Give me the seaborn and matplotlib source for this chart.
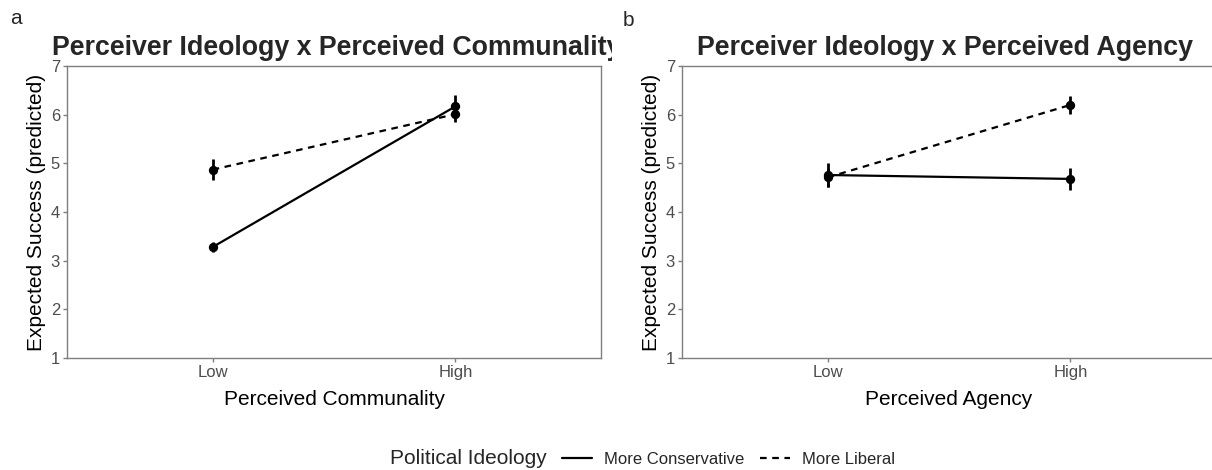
import numpy as np
import pandas as pd
import matplotlib
matplotlib.use("Agg")
import matplotlib.pyplot as plt
import seaborn as sns
from matplotlib.lines import Line2D
from matplotlib.transforms import Bbox, TransformedBbox

sns.set_theme(style="white")
plt.rcParams["font.family"] = ["Liberation Sans", "DejaVu Sans"]

# Predicted values and 95% CI half-widths
levels = ["Low", "High"]
ideologies = ["More Conservative", "More Liberal"]

communality_conservative = [3.28, 6.17]
communality_conservative_err = [0.10, 0.23]
communality_liberal = [4.87, 6.01]
communality_liberal_err = [0.22, 0.17]

agency_conservative = [4.76, 4.68]
agency_conservative_err = [0.25, 0.22]
agency_liberal = [4.71, 6.20]
agency_liberal_err = [0.20, 0.18]

panel_titles = ["Perceiver Ideology x Perceived Communality",
                "Perceiver Ideology x Perceived Agency"]
x_labels = ["Perceived Communality", "Perceived Agency"]
y_label = "Expected Success (predicted)"
y_ticks = [1, 2, 3, 4, 5, 6, 7]
legend_title = "Political Ideology"


def make_frame(cons, cons_err, lib, lib_err):
    rows = []
    for ideo, vals, errs in [(ideologies[0], cons, cons_err), (ideologies[1], lib, lib_err)]:
        for lvl, v, e in zip(levels, vals, errs):
            rows.append({"level": lvl, "ideology": ideo, "estimate": v, "err": e})
    return pd.DataFrame(rows)


frames = [
    make_frame(communality_conservative, communality_conservative_err,
               communality_liberal, communality_liberal_err),
    make_frame(agency_conservative, agency_conservative_err,
               agency_liberal, agency_liberal_err),
]

W, H = 1212, 470
fig = plt.figure(figsize=(W / 100, H / 100), dpi=100)


def px_axes(left, top, right, bottom):
    return fig.add_axes([left / W, 1 - bottom / H, (right - left) / W, (bottom - top) / H])


axes = [px_axes(67, 66, 601, 358), px_axes(682, 66, 1216, 358)]
grey = "#7f7f7f"
dash = (3, 2.5)

for ax, df, xl in zip(axes, frames, x_labels):
    sns.pointplot(data=df, x="level", y="estimate", hue="ideology",
                  order=levels, hue_order=ideologies,
                  palette=["black", "black"], linestyles=["-", "--"],
                  markers=["o", "o"], errorbar=None, dodge=False,
                  markersize=5.5, linewidth=1.6, legend=False, ax=ax)
    for ln in ax.lines:
        if ln.get_linestyle() == "--":
            ln.set_dashes(dash)
    for ideo in ideologies:
        sub = df[df["ideology"] == ideo].set_index("level").loc[levels]
        ax.errorbar(np.arange(len(levels)), sub["estimate"], yerr=sub["err"],
                    fmt="none", ecolor="black", elinewidth=2.0, capsize=0, zorder=5)
    ax.set_xlim(-0.6, 1.6)
    ax.set_ylim(1, 7)
    ax.set_yticks(y_ticks)
    ax.set_xlabel(xl, fontsize=15, color="black")
    ax.set_ylabel(y_label, fontsize=15, color="black")
    ax.xaxis.set_label_coords(0.5, -0.108)
    ax.yaxis.set_label_coords(-0.040, 0.5)
    ax.tick_params(axis="both", which="major", length=3, width=1, color=grey,
                   labelsize=12, labelcolor="#4d4d4d", pad=2,
                   left=True, bottom=True)
    for s in ax.spines.values():
        s.set_visible(True)
        s.set_color(grey)
        s.set_linewidth(1.0)
    ax.grid(False)
    ax.set_facecolor("white")

# Panel titles and letters
t1 = fig.text(52 / W, 1 - 55 / H, panel_titles[0], fontsize=19.3, fontweight="bold",
              ha="left", va="baseline")
t1.set_clip_box(TransformedBbox(Bbox([[0, 0], [612 / W, 1]]), fig.transFigure))
t1.set_clip_on(True)
fig.text(697 / W, 1 - 55 / H, panel_titles[1], fontsize=19.3, fontweight="bold",
         ha="left", va="baseline")
fig.text(10 / W, 1 - 24 / H, "a", fontsize=15, ha="left", va="baseline")
fig.text(623 / W, 1 - 26 / H, "b", fontsize=15, ha="left", va="baseline")

# Shared legend
fig.text(390 / W, 1 - 459 / H, legend_title, fontsize=15, ha="left", va="center")
handles = [Line2D([], [], color="black", lw=1.6, ls="-"),
           Line2D([], [], color="black", lw=1.6, ls=(0, dash))]
fig.legend(handles, ideologies, loc="center left", ncol=2,
           bbox_to_anchor=(562 / W, 1 - 459 / H), frameon=False,
           borderpad=0, borderaxespad=0,
           fontsize=12, handlelength=1.8, handletextpad=0.75, columnspacing=0.9)

fig.savefig("out.png", dpi=100, facecolor="white")
